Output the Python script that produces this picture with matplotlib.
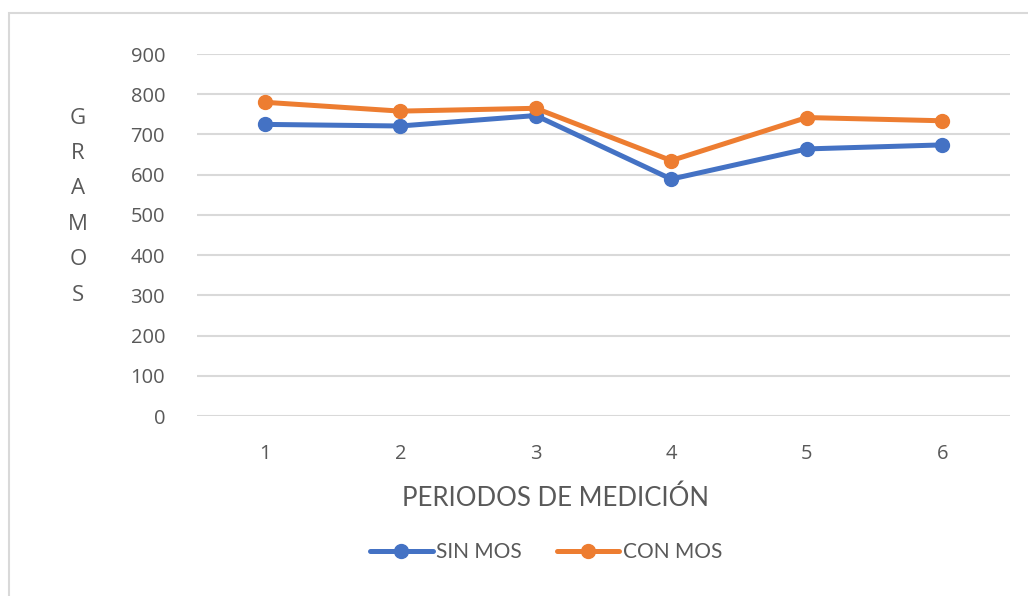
import matplotlib
matplotlib.use("Agg")
import matplotlib.pyplot as plt
from matplotlib.patches import Rectangle

periods = [1, 2, 3, 4, 5, 6]
sin_mos = [725, 721, 747, 589, 664, 674]
con_mos = [780, 758, 765, 635, 742, 734]
yticks = [0, 100, 200, 300, 400, 500, 600, 700, 800, 900]

BLUE = "#4472C4"
ORANGE = "#ED7D31"
GRID = "#D9D9D9"
TXT = "#595959"
FONT = ["Lato", "DejaVu Sans"]
TFONT = ["Open Sans", "DejaVu Sans"]

W, H = 1028, 596
fig = plt.figure(figsize=(W / 100, H / 100), dpi=100)
fig.patch.set_facecolor("white")

# chart border
fig.patches.append(Rectangle((9 / W, -0.2), 1.2, 1 - 13 / H + 0.2,
                             transform=fig.transFigure, fill=False,
                             edgecolor=GRID, linewidth=1.5))

ax = fig.add_axes([197 / W, 1 - 416 / H, (1010 - 197) / W, (416 - 54) / H])
ax.plot(periods, sin_mos, color=BLUE, lw=3.6, marker="o", ms=10,
        label="SIN MOS", solid_capstyle="round", zorder=3)
ax.plot(periods, con_mos, color=ORANGE, lw=3.6, marker="o", ms=10,
        label="CON MOS", solid_capstyle="round", zorder=4)

ax.set_xlim(0.5, 6.5)
ax.set_ylim(0, 900)
ax.set_yticks(yticks)
ax.set_xticks(periods)
ax.set_xticklabels([str(p) for p in periods])
ax.grid(axis="y", color=GRID, lw=1.5)
ax.set_axisbelow(True)
for s in ax.spines.values():
    s.set_visible(False)
ax.tick_params(length=0, colors=TXT, labelsize=14.5)
ax.tick_params(axis="y", pad=23)
ax.tick_params(axis="x", pad=20)
for lab in ax.get_xticklabels() + ax.get_yticklabels():
    lab.set_family(TFONT)

# vertical stacked y label
for i, ch in enumerate("GRAMOS"):
    fig.text(78 / W, 1 - (118 + i * 35.5) / H, ch, ha="center", va="center",
             fontsize=16, color=TXT, family=TFONT)

fig.text(555 / W, 1 - 498 / H, "PERIODOS DE MEDICIÓN", ha="center", va="center",
         fontsize=18.5, color=TXT, family=FONT)

leg = fig.legend(loc="center", bbox_to_anchor=(546 / W, 1 - 552 / H), ncol=2,
                 frameon=False, handlelength=3.0, handletextpad=0.15,
                 columnspacing=1.7, prop={"family": FONT, "size": 15})
for t in leg.get_texts():
    t.set_color(TXT)

fig.savefig("out.png", dpi=100, facecolor="white")
